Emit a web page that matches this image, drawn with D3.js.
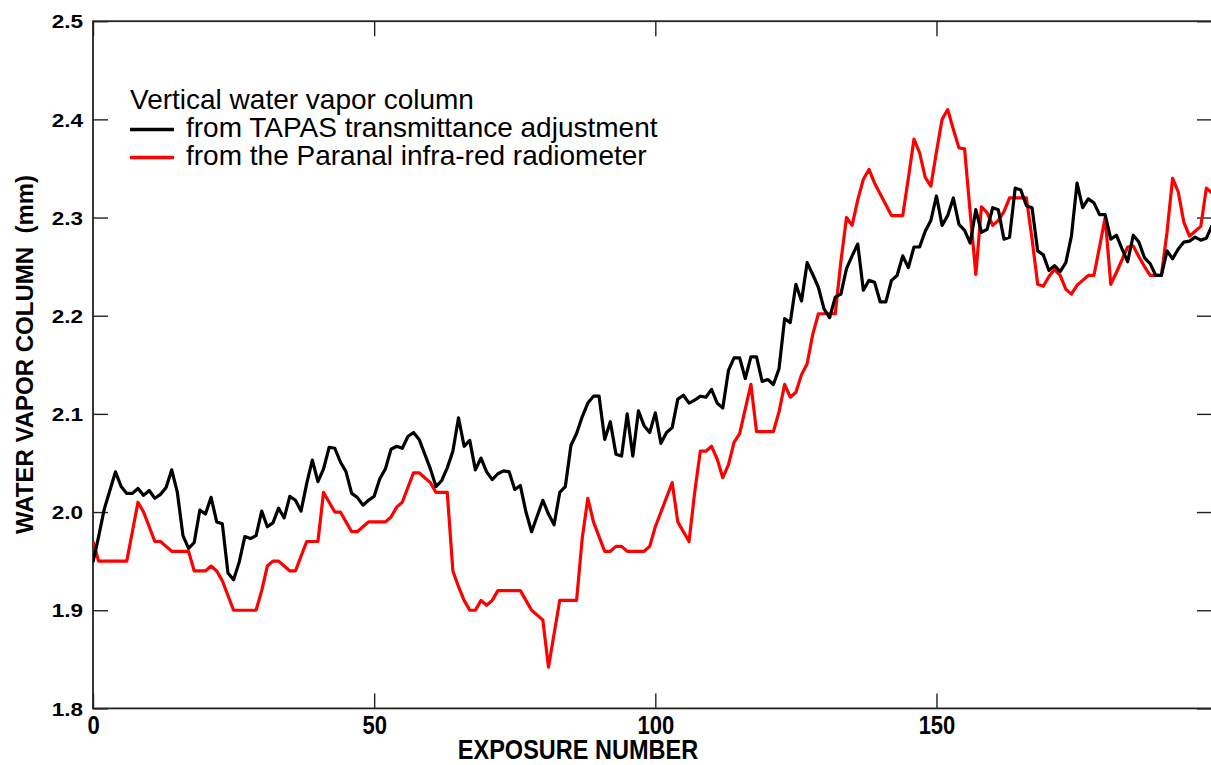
<!DOCTYPE html>
<html>
<head>
<meta charset="utf-8">
<script src="https://cdnjs.cloudflare.com/ajax/libs/d3/7.8.5/d3.min.js"></script>
<style>
  body { margin: 0; background: #fff; }
  .chart text { font-family: "Liberation Sans", Arial, sans-serif; fill: #000; }
</style>
</head>
<body>
<div class="chart"></div>
<script>
// tick labels
var xTicks = [0, 50, 100, 150];
var yTicks = [1.8, 1.9, 2.0, 2.1, 2.2, 2.3, 2.4, 2.5];

// water vapor column (mm), one value per exposure, starting at exposure 0
var tapas = [
  1.949, 1.975, 2.003, 2.022, 2.041, 2.026, 2.019, 2.019, 2.024, 2.017,
  2.022, 2.014, 2.018, 2.025, 2.043, 2.020, 1.976, 1.963, 1.969, 2.002,
  1.998, 2.015, 1.990, 1.988, 1.938, 1.931, 1.949, 1.975, 1.973, 1.976,
  2.001, 1.985, 1.989, 2.004, 1.994, 2.016, 2.012, 2.001, 2.029, 2.053,
  2.031, 2.044, 2.066, 2.065, 2.051, 2.041, 2.019, 2.015, 2.007, 2.012,
  2.016, 2.034, 2.044, 2.064, 2.067, 2.065, 2.077, 2.081, 2.074, 2.059,
  2.044, 2.026, 2.032, 2.045, 2.062, 2.096, 2.067, 2.073, 2.043, 2.055,
  2.041, 2.033, 2.039, 2.042, 2.041, 2.023, 2.027, 2.000, 1.980, 1.996,
  2.012, 1.998, 1.987, 2.020, 2.026, 2.068, 2.080, 2.097, 2.111, 2.118,
  2.118, 2.074, 2.092, 2.059, 2.057, 2.100, 2.057, 2.103, 2.088, 2.081,
  2.101, 2.070, 2.081, 2.086, 2.115, 2.119, 2.111, 2.114, 2.118, 2.117,
  2.125, 2.111, 2.106, 2.144, 2.157, 2.157, 2.136, 2.158, 2.158, 2.133,
  2.135, 2.130, 2.146, 2.197, 2.193, 2.232, 2.215, 2.254, 2.242, 2.229,
  2.207, 2.198, 2.219, 2.222, 2.248, 2.261, 2.273, 2.226, 2.236, 2.234,
  2.214, 2.214, 2.236, 2.241, 2.261, 2.249, 2.270, 2.270, 2.286, 2.297,
  2.322, 2.292, 2.302, 2.320, 2.293, 2.287, 2.274, 2.308, 2.285, 2.288,
  2.310, 2.308, 2.278, 2.280, 2.330, 2.328, 2.312, 2.310, 2.266, 2.262,
  2.246, 2.251, 2.245, 2.254, 2.281, 2.335, 2.310, 2.319, 2.315, 2.303,
  2.303, 2.278, 2.282, 2.268, 2.255, 2.282, 2.275, 2.259, 2.253, 2.241,
  2.241, 2.266, 2.258, 2.268, 2.275, 2.276, 2.280, 2.277, 2.279, 2.292
];

var radiometer = [
  1.970, 1.950, 1.950, 1.950, 1.950, 1.950, 1.950, 1.980, 2.010, 2.000,
  1.985, 1.970, 1.970, 1.965, 1.960, 1.960, 1.960, 1.960, 1.940, 1.940,
  1.940, 1.945, 1.940, 1.930, 1.915, 1.900, 1.900, 1.900, 1.900, 1.900,
  1.920, 1.945, 1.950, 1.950, 1.945, 1.940, 1.940, 1.955, 1.970, 1.970,
  1.970, 2.020, 2.010, 2.000, 2.000, 1.990, 1.980, 1.980, 1.985, 1.990,
  1.990, 1.990, 1.990, 1.995, 2.005, 2.010, 2.025, 2.040, 2.040, 2.035,
  2.030, 2.020, 2.020, 2.020, 1.940, 1.924, 1.910, 1.900, 1.900, 1.910,
  1.905, 1.910, 1.920, 1.920, 1.920, 1.920, 1.920, 1.910, 1.900, 1.895,
  1.890, 1.842, 1.876, 1.910, 1.910, 1.910, 1.910, 1.973, 2.014, 1.990,
  1.975, 1.960, 1.960, 1.965, 1.965, 1.960, 1.960, 1.960, 1.960, 1.965,
  1.985, 2.000, 2.015, 2.030, 1.990, 1.980, 1.970, 2.020, 2.062, 2.062,
  2.067, 2.054, 2.035, 2.048, 2.071, 2.080, 2.105, 2.130, 2.082, 2.082,
  2.082, 2.082, 2.102, 2.130, 2.117, 2.122, 2.140, 2.151, 2.181, 2.202,
  2.202, 2.202, 2.202, 2.255, 2.300, 2.292, 2.318, 2.339, 2.349, 2.335,
  2.324, 2.313, 2.302, 2.302, 2.302, 2.340, 2.380, 2.366, 2.341, 2.332,
  2.367, 2.400, 2.410, 2.390, 2.371, 2.370, 2.305, 2.242, 2.311, 2.305,
  2.292, 2.297, 2.306, 2.320, 2.320, 2.320, 2.320, 2.278, 2.232, 2.230,
  2.240, 2.247, 2.241, 2.227, 2.222, 2.231, 2.236, 2.241, 2.241, 2.270,
  2.300, 2.232, 2.244, 2.257, 2.270, 2.271, 2.260, 2.250, 2.241, 2.241,
  2.241, 2.285, 2.340, 2.326, 2.295, 2.281, 2.286, 2.291, 2.330, 2.325
];

var legendTitle = "Vertical water vapor column",
    legendNames = ["from TAPAS transmittance adjustment", "from the Paranal infra-red radiometer"],
    legendColors = ["#000", "#ff0000"];

var W = 1211, H = 765,
    plotL = 93, plotR = 1212, plotT = 21.2, plotB = 708.4;

var svg = d3.select(".chart")
  .append("svg")
  .attr("width", W)
  .attr("height", H);

var x = d3.scaleLinear().domain([0, 199]).range([plotL, plotR]);
var y = d3.scaleLinear().domain([1.8, 2.5]).range([plotB, plotT]);

svg.append("defs").append("clipPath")
  .attr("id", "plotclip")
  .append("rect")
  .attr("x", plotL).attr("y", plotT)
  .attr("width", plotR - plotL).attr("height", plotB - plotT);

// axes, ticks pointing inwards
var xAxis = svg.append("g")
  .attr("transform", "translate(0," + plotB + ")")
  .call(d3.axisBottom(x).tickValues(xTicks).tickSizeInner(-15).tickSizeOuter(0).tickPadding(8).tickFormat(d3.format("d")));
xAxis.selectAll("text")
  .style("font-size", "25px")
  .style("font-weight", "bold")
  .attr("transform", "scale(0.88,1)");

var yAxis = svg.append("g")
  .attr("transform", "translate(" + plotL + ",0)")
  .call(d3.axisLeft(y).tickValues(yTicks).tickSizeInner(-15).tickSizeOuter(0).tickFormat(d3.format(".1f")));
yAxis.selectAll("text")
  .attr("x", null)
  .attr("dy", "0.36em")
  .style("font-size", "18.5px")
  .style("font-weight", "bold")
  .attr("transform", "translate(-10,0) scale(1.22,1)");

svg.append("g")
  .attr("transform", "translate(" + plotR + ",0)")
  .call(d3.axisRight(y).tickValues(yTicks).tickSizeInner(-15).tickSizeOuter(0).tickFormat(""));

svg.append("g")
  .attr("transform", "translate(0," + plotT + ")")
  .call(d3.axisTop(x).tickValues(xTicks).tickSizeInner(-15).tickSizeOuter(0).tickFormat(""));

svg.selectAll(".domain").remove();
svg.selectAll(".tick line").attr("stroke", "#222").attr("stroke-width", 1.4);

svg.append("rect")
  .attr("x", plotL).attr("y", plotT)
  .attr("width", plotR - plotL).attr("height", plotB - plotT)
  .attr("fill", "none")
  .attr("stroke", "#222")
  .attr("stroke-width", 1.8);

// lines
var line = d3.line()
  .x((d, i) => x(i))
  .y(d => y(d));

var plot = svg.append("g").attr("clip-path", "url(#plotclip)");

plot.append("path")
  .datum(radiometer)
  .attr("d", line)
  .attr("fill", "none")
  .attr("stroke", "#ff0000")
  .attr("stroke-width", 3.2)
  .attr("stroke-linejoin", "round");

plot.append("path")
  .datum(tapas)
  .attr("d", line)
  .attr("fill", "none")
  .attr("stroke", "#000")
  .attr("stroke-width", 3.2)
  .attr("stroke-linejoin", "round");

// axis titles
svg.append("text")
  .attr("transform", "translate(578,759) scale(0.84,1)")
  .attr("text-anchor", "middle")
  .style("font-size", "28px")
  .style("font-weight", "bold")
  .text("EXPOSURE NUMBER");

svg.append("text")
  .attr("transform", "translate(33,354.5) rotate(-90)")
  .attr("text-anchor", "middle")
  .style("font-size", "24px")
  .style("font-weight", "bold")
  .style("white-space", "pre")
  .text("WATER VAPOR COLUMN  (mm)");

// legend
svg.append("text")
  .attr("x", 130)
  .attr("y", 109)
  .style("font-size", "28px")
  .text(legendTitle);

var legend = svg.selectAll(".legend")
  .data(legendNames)
  .enter()
  .append("g")
  .attr("class", "legend")
  .attr("transform", (d, i) => "translate(0," + (137 + i * 28) + ")");

legend.append("line")
  .attr("x1", 130).attr("x2", 174)
  .attr("y1", -7.5).attr("y2", -7.5)
  .attr("stroke", (d, i) => legendColors[i])
  .attr("stroke-width", 3.5);

legend.append("text")
  .attr("x", 186)
  .attr("y", 0)
  .style("font-size", "28px")
  .text(d => d);
</script>
</body>
</html>
